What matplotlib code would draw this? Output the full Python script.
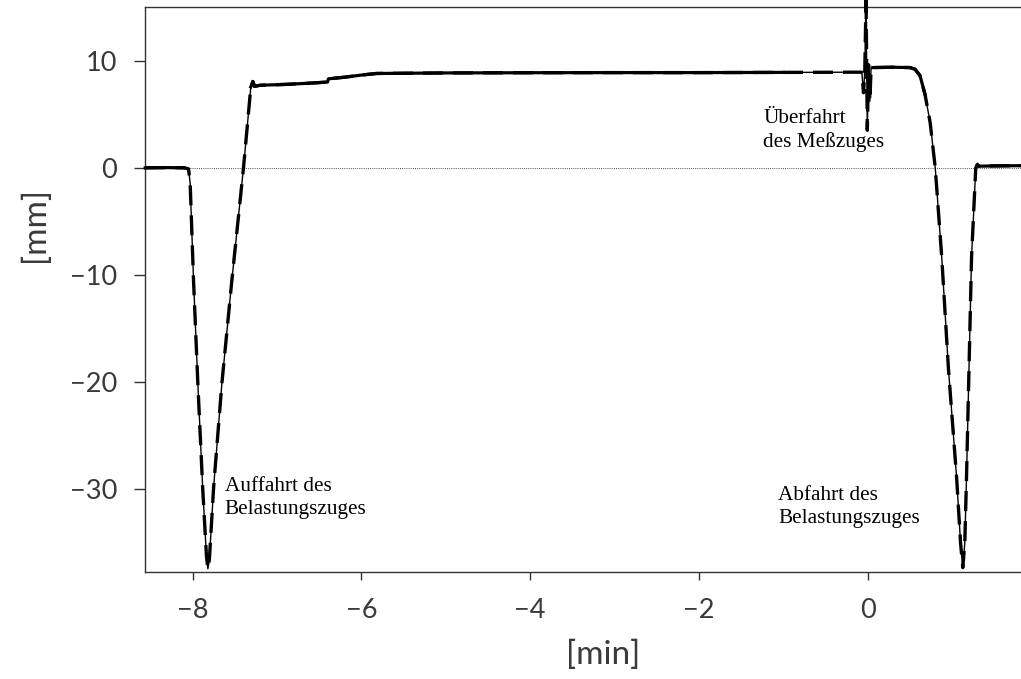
import numpy as np
import matplotlib
matplotlib.use("Agg")
import matplotlib.pyplot as plt

# Settlement trace of the track during a passage [time in min, displacement in mm]
arrival_t = [-8.56, -8.30, -8.10, -8.047, -8.028, -7.988, -7.937, -7.88, -7.835,
             -7.818, -7.80, -7.75, -7.652, -7.534, -7.396, -7.309, -7.285, -7.265]
arrival_v = [0.0, 0.02, 0.0, -0.1, -1.45, -10.5, -20.1, -29.8, -36.2,
             -37.4, -36.5, -29.8, -20.1, -10.5, 0.0, 7.55, 8.05, 7.6]

plateau_t = [-7.20, -6.90, -6.60, -6.40, -6.39, -6.20, -6.00, -5.82, -5.00,
             -4.00, -3.00, -2.00, -1.00, -0.07]
plateau_v = [7.7, 7.78, 7.9, 8.0, 8.3, 8.45, 8.65, 8.8, 8.85,
             8.87, 8.88, 8.88, 8.9, 8.92]

crossing_t = [-0.05, -0.035, -0.02, -0.005, 0.01, 0.025, 0.04, 0.06]
crossing_v = [7.0, 9.0, 15.8, 3.5, 9.6, 6.2, 9.3, 9.35]

departure_t = [0.30, 0.50, 0.56, 0.62, 0.68, 0.74, 0.80, 0.877, 0.956, 1.054,
               1.10, 1.126, 1.15, 1.17, 1.23, 1.28, 1.30, 1.32, 1.50, 1.82]
departure_v = [9.38, 9.35, 9.2, 8.6, 6.8, 4.2, 0.0, -8.35, -18.7, -29.0,
               -35.0, -37.3, -35.0, -29.0, -8.35, 0.0, 0.3, 0.15, 0.18, 0.2]

x_ticks = [-8, -6, -4, -2, 0]
y_ticks = [10, 0, -10, -20, -30]
x_limits = (-8.563, 1.816)
y_limits = (-37.7, 15.0)

label_arrival = "Auffahrt des\nBelastungszuges"
label_departure = "Abfahrt des\nBelastungszuges"
label_crossing = "Überfahrt\ndes Meßzuges"

t = np.array(arrival_t + plateau_t + crossing_t + departure_t)
v = np.array(arrival_v + plateau_v + crossing_v + departure_v)

fig = plt.figure(figsize=(10.21, 6.79), dpi=100)
ax = fig.add_axes([145 / 1021, 107 / 679, 1 - 145 / 1021, 565 / 679])

axis_gray = "#333333"
tick_font = dict(family=["Lato", "DejaVu Sans"], weight="normal", size=19.5, color="#3a3a3a")
label_font = dict(family=["Lato", "DejaVu Sans"], weight="normal", size=24, color="#3a3a3a")

# dotted zero reference
ax.axhline(0, color="#555555", lw=0.7, ls=(0, (1, 1.2)), zorder=1)

# thin base trace
ax.plot(t, v, color="black", lw=1.0, zorder=3, clip_on=False)
# heavy pen strokes broken up on the steep flanks
ax.plot(t, v, color="black", lw=2.4, ls=(0, (6, 3)), zorder=3,
        solid_capstyle="butt", dash_capstyle="butt", clip_on=False)
# solid heavy stroke on the level parts
slope = np.abs(np.gradient(v, t))
flat_v = np.ma.masked_where(slope > 40, v)
ax.plot(t, flat_v, color="black", lw=2.3, zorder=4, clip_on=False)

ax.set_xlim(*x_limits)
ax.set_ylim(*y_limits)
ax.set_xticks(x_ticks)
ax.set_yticks(y_ticks)
ax.set_xticklabels([f"\u2212{abs(x)}" if x < 0 else str(x) for x in x_ticks], **tick_font)
ax.set_yticklabels([f"\u2212{abs(y)}" if y < 0 else str(y) for y in y_ticks], **tick_font)
ax.tick_params(axis="y", direction="out", length=8, width=1, color=axis_gray, pad=12)
ax.tick_params(axis="x", direction="out", length=6, width=1, color=axis_gray, pad=13)

for side in ("left", "bottom", "top"):
    ax.spines[side].set_color(axis_gray)
    ax.spines[side].set_linewidth(1.0)
ax.spines["right"].set_visible(False)

ax.set_xlabel("[min]", **label_font)
ax.set_ylabel("[mm]", **label_font)
ax.xaxis.set_label_coords((603 - 145) / 876, (572 - 640) / 565)
ax.yaxis.set_label_coords((50 - 145) / 876, (572 - 225) / 565)

serif = dict(family=["Liberation Serif", "DejaVu Serif"], size=15.3, linespacing=1.3,
             ha="left", va="center")
ax.text(-7.62, -30.8, label_arrival, **serif)
ax.text(-1.063, -31.6, label_departure, **serif)
ax.text(-1.24, 3.5, label_crossing, **serif)

fig.savefig("out.png", dpi=100)
